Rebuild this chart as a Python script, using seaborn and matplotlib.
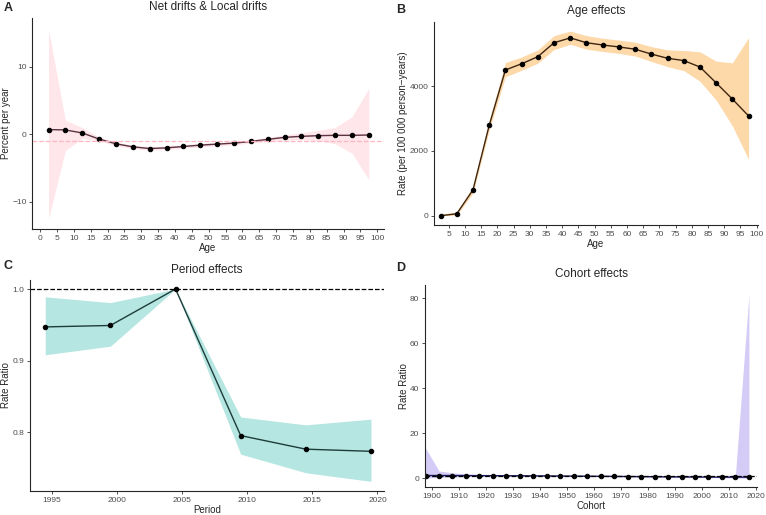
import numpy as np
import pandas as pd
import seaborn as sns
import matplotlib.pyplot as plt

# Panel A: net drift & local drifts
edad = [2.5, 7.5, 12.5, 17.5, 22.5, 27.5, 32.5, 37.5, 42.5, 47.5,
        52.5, 57.5, 62.5, 67.5, 72.5, 77.5, 82.5, 87.5, 92.5, 97.5]
drift_local = [0.7, 0.65, 0.2, -0.7, -1.4, -1.85, -2.1, -2.0, -1.8, -1.6,
               -1.45, -1.3, -1.05, -0.75, -0.45, -0.3, -0.2, -0.15, -0.15, -0.1]
drift_sup = [15.5, 2.1, 1.0, -0.4, -1.15, -1.6, -1.85, -1.75, -1.55, -1.35,
             -1.2, -1.05, -0.8, -0.45, -0.1, 0.25, 0.6, 1.0, 2.6, 6.8]
drift_inf = [-12.5, -2.4, -0.6, -1.0, -1.65, -2.1, -2.35, -2.25, -2.05, -1.85,
             -1.7, -1.55, -1.3, -1.05, -0.85, -0.8, -0.95, -1.4, -2.8, -6.7]
drift_neto = -0.98

# Panel B: age effects
efecto_edad = [0, 60, 800, 2790, 4500, 4690, 4910, 5340, 5490, 5340,
               5270, 5210, 5140, 4990, 4860, 4790, 4590, 4100, 3600, 3080]
edad_sup = [40, 120, 900, 2950, 4730, 4900, 5120, 5560, 5700, 5560,
            5480, 5420, 5360, 5220, 5120, 5100, 5060, 4770, 4720, 5500]
edad_inf = [0, 20, 700, 2640, 4290, 4490, 4710, 5130, 5290, 5140,
            5070, 5010, 4930, 4760, 4600, 4480, 4150, 3570, 2770, 1740]

# Panel C: period effects
periodo = [1994.5, 1999.5, 2004.5, 2009.5, 2014.5, 2019.5]
rr_periodo = [0.947, 0.949, 1.0, 0.795, 0.776, 0.773]
periodo_sup = [0.989, 0.981, 1.0, 0.821, 0.810, 0.818]
periodo_inf = [0.908, 0.920, 1.0, 0.769, 0.743, 0.731]

# Panel D: cohort effects
cohorte = [1897.5, 1902.5, 1907.5, 1912.5, 1917.5, 1922.5, 1927.5, 1932.5, 1937.5,
           1942.5, 1947.5, 1952.5, 1957.5, 1962.5, 1967.5, 1972.5, 1977.5, 1982.5,
           1987.5, 1992.5, 1997.5, 2002.5, 2007.5, 2012.5, 2017.5]
rr_cohorte = [1.3, 1.3, 1.28, 1.26, 1.24, 1.22, 1.2, 1.18, 1.15, 1.12, 1.08, 1.04, 1.0,
              0.95, 0.9, 0.85, 0.8, 0.75, 0.7, 0.66, 0.62, 0.6, 0.58, 0.57, 0.6]
cohorte_sup = [13.5, 3.3, 2.5, 2.0, 1.7, 1.6, 1.5, 1.45, 1.4, 1.35, 1.3, 1.25, 1.2,
               1.15, 1.1, 1.05, 1.0, 0.95, 0.9, 0.86, 0.82, 0.8, 0.85, 1.5, 81.5]
cohorte_inf = [0.12, 0.5, 0.65, 0.8, 0.9, 0.95, 0.97, 0.97, 0.96, 0.94, 0.9, 0.86, 0.82,
               0.78, 0.73, 0.68, 0.63, 0.58, 0.53, 0.48, 0.43, 0.38, 0.3, 0.15, 0.005]

sns.set_theme(style="ticks")
plt.rcParams["font.family"] = ["Liberation Sans", "DejaVu Sans"]
plt.rcParams["axes.linewidth"] = 0.8

W, H = 766, 515
fig = plt.figure(figsize=(W / 100, H / 100), dpi=100)

def r(l, rgt, b, t):
    return [l / W, 1 - b / H, (rgt - l) / W, (b - t) / H]

def panel(rect, x, y, lo, hi, banda, linea, titulo, xlab, ylab, letra, letra_xy, pad):
    ax = fig.add_axes(rect)
    ax.fill_between(x, lo, hi, color=banda, lw=0)
    df = pd.DataFrame({"x": x, "y": y})
    sns.lineplot(data=df, x="x", y="y", ax=ax, color=linea, lw=1.0,
                 marker="o", markersize=3.2, markerfacecolor="black",
                 markeredgecolor="black")
    ax.set_title(titulo, fontsize=8.5, pad=pad)
    ax.set_xlabel(xlab, fontsize=7, labelpad=1)
    ax.set_ylabel(ylab, fontsize=7, labelpad=1)
    ax.tick_params(labelsize=6, labelcolor="#4D4D4D", color="#333333",
                   length=2.5, width=0.6, pad=1.5)
    sns.despine(ax=ax)
    fig.text(letra_xy[0] / W, 1 - letra_xy[1] / H, letra, fontsize=9,
             fontweight="bold", va="top", ha="left")
    return ax

# A
axA = panel(r(32, 384, 229, 18), edad, drift_local, drift_inf, drift_sup,
            "#FFE6EA", "#5B3341", "Net drifts & Local drifts", "Age",
            "Percent per year", "A", (4, 2), 5.5)
axA.axhline(drift_neto, color="#FFB6C1", ls="--", lw=0.9)
axA.set_xlim(-2.4, 102)
axA.set_ylim(-14.0, 17.2)
axA.set_xticks(range(0, 101, 5))
axA.set_yticks([-10, 0, 10])

# B
axB = panel(r(434, 758, 225, 22), edad, efecto_edad, edad_inf, edad_sup,
            "#FDD9AA", "#3D2510", "Age effects", "Age",
            "Rate (per 100 000 person\u2212years)", "B", (396, 4), 6)
axB.set_xlim(0.47, 100.4)
axB.set_ylim(-287, 5980)
axB.set_xticks(range(5, 101, 5))
axB.set_yticks([0, 2000, 4000])

# C
axC = panel(r(30, 384, 491, 280), periodo, rr_periodo, periodo_inf, periodo_sup,
            "#B5E6E1", "#1E3D3A", "Period effects", "Period",
            "Rate Ratio", "C", (4, 260), 5)
axC.axhline(1.0, color="black", ls="--", lw=0.9)
axC.set_xlim(1993.33, 2020.5)
axC.set_ylim(0.7175, 1.0126)
axC.set_xticks(range(1995, 2021, 5))
axC.set_yticks([0.8, 0.9, 1.0])
axC.set_yticklabels(["0.8", "0.9", "1.0"])

# D
axD = panel(r(425, 757, 487, 285), cohorte, rr_cohorte, cohorte_inf, cohorte_sup,
            "#D4CCF6", "#1A1A5E", "Cohort effects", "Cohort",
            "Rate Ratio", "D", (396, 262), 6)
axD.axhline(1.0, color="black", ls="--", lw=0.9)
axD.set_xlim(1897.3, 2020.5)
axD.set_ylim(-3.8, 85.8)
axD.set_xticks(range(1900, 2021, 10))
axD.set_yticks([0, 20, 40, 60, 80])

fig.savefig("out.png", dpi=100)
